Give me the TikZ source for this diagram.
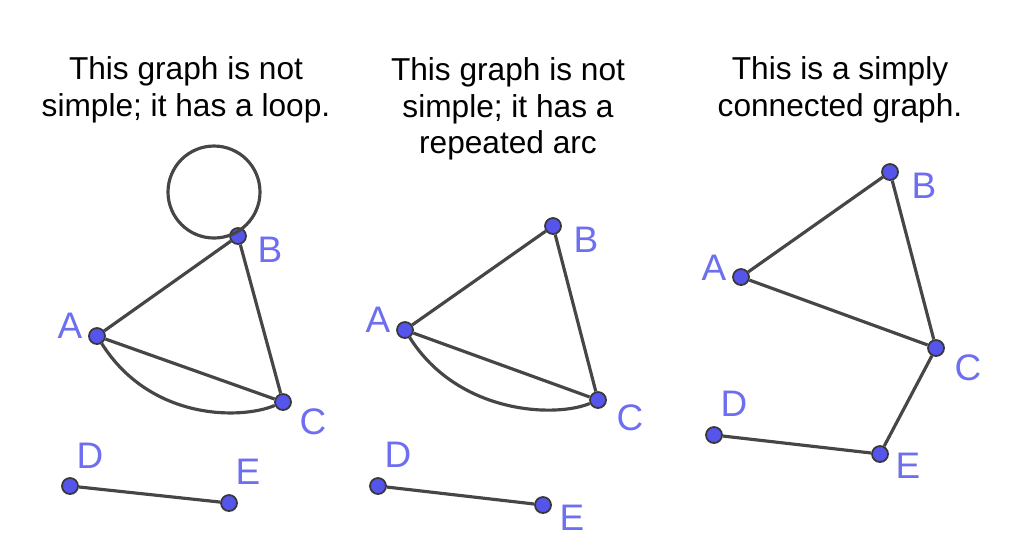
\documentclass[tikz,border=0pt]{standalone}
\usepackage{fontspec}
\setmainfont{Liberation Sans}
\usetikzlibrary{positioning}
\definecolor{vblue}{RGB}{85,85,235}
\definecolor{lblue}{RGB}{110,110,240}
\definecolor{edgegray}{RGB}{70,70,70}
\tikzset{
  vert/.style={shape=circle,draw=edgegray!80!black,fill=vblue,inner sep=0pt,minimum size=0.16cm,line width=0.5pt},
  vlab/.style={text=lblue,font=\fontsize{10.5}{12}\selectfont},
  edge/.style={draw=edgegray,line width=0.9pt},
  caption/.style={align=center,font=\fontsize{9}{10.4}\selectfont}
}
\begin{document}
\begin{tikzpicture}[x=0.01cm,y=-0.01cm]
		\useasboundingbox (0,0) rectangle (1009,550);
		% captions
		\node(t1) [caption] at (186,90) {This graph is not\\simple; it has a loop.};
		\node(t2) [caption] at (508,109) {This graph is not\\simple; it has a\\repeated arc};
		\node(t3) [caption] at (840,90) {This is a simply\\connected graph.};
		% first graph
		\node(a1) [vert] at (97,336) {};
		\node(b1) [vert] at (238,236) {};
		\node(c1) [vert] at (283,402) {};
		\node(d1) [vert] at (70,486) {};
		\node(e1) [vert] at (229,503) {};
		\node at (70,326) [vlab] {A};
		\node at (270,250) [vlab] {B};
		\node at (313,422) [vlab] {C};
		\node at (90,456) [vlab] {D};
		\node at (248,472) [vlab] {E};
		\draw [edge] (214,192) circle (46);
		\draw [edge] (a1) -- (b1) -- (c1) -- (a1);
		\draw [edge] (a1) .. controls (150,420) and (240,420) .. (c1);
		\draw [edge] (d1) -- (e1);
		% second graph
		\node(a2) [vert] at (405,330) {};
		\node(b2) [vert] at (553,226) {};
		\node(c2) [vert] at (598,400) {};
		\node(d2) [vert] at (378,486) {};
		\node(e2) [vert] at (543,505) {};
		\node at (378,320) [vlab] {A};
		\node at (586,240) [vlab] {B};
		\node at (630,418) [vlab] {C};
		\node at (398,455) [vlab] {D};
		\node at (572,518) [vlab] {E};
		\draw [edge] (a2) -- (b2) -- (c2) -- (a2);
		\draw [edge] (a2) .. controls (458,414) and (555,418) .. (c2);
		\draw [edge] (d2) -- (e2);
		% third graph
		\node(a3) [vert] at (741,277) {};
		\node(b3) [vert] at (890,172) {};
		\node(c3) [vert] at (936,348) {};
		\node(d3) [vert] at (714,435) {};
		\node(e3) [vert] at (880,454) {};
		\node at (714,268) [vlab] {A};
		\node at (924,186) [vlab] {B};
		\node at (968,368) [vlab] {C};
		\node at (734,404) [vlab] {D};
		\node at (908,466) [vlab] {E};
		\draw [edge] (a3) -- (b3) -- (c3) -- (a3);
		\draw [edge] (c3) -- (e3) -- (d3);
	\end{tikzpicture}
\end{document}
